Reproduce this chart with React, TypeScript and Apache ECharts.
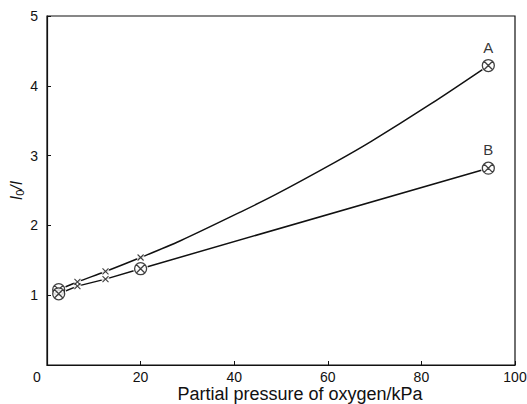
import React, { useEffect, useRef } from "react";
import * as echarts from "echarts";

// Measured points (partial pressure kPa, I0/I)
const aX = [2.5, 6.5, 12.5, 20, 94.3];
const aY = [1.08, 1.19, 1.34, 1.54, 4.29];
const aMarker = ["circle", "cross", "cross", "cross", "circle"];
const bX = [2.5, 6.5, 12.5, 20, 94.3];
const bY = [1.02, 1.13, 1.23, 1.38, 2.82];
const bMarker = ["circle", "cross", "cross", "circle", "circle"];
// Points read along the drawn (fitted) curve A between its markers
const aCurveX = [28.5, 41.3, 48.8, 61.7, 69.2, 82.0];
const aCurveY = [1.78, 2.19, 2.44, 2.91, 3.2, 3.74];
const curveNames = ["A", "B"];
const xTicks = [0, 20, 40, 60, 80, 100];
const yTicks = [0, 1, 2, 3, 4, 5];

const CIRCLE_X =
  "path://M10,0A10,10,0,1,1,-10,0A10,10,0,1,1,10,0ZM-7.07,-7.07L7.07,7.07M-7.07,7.07L7.07,-7.07";
const CROSS = "path://M0,0L10,10M0,10L10,0";
const FONT = "'Liberation Sans', Arial, Helvetica, sans-serif";

export default function App() {
  const ref = useRef<HTMLDivElement>(null);
  useEffect(() => {
    if (!ref.current) return;
    const chart = echarts.init(ref.current, undefined, { renderer: "svg" });

    const lineA = aX
      .map((x, i) => [x, aY[i]])
      .concat(aCurveX.map((x, i) => [x, aCurveY[i]]))
      .sort((p, q) => p[0] - q[0]);
    const lineB = bX.map((x, i) => [x, bY[i]]);

    const pts = (xs: number[], ys: number[], mk: string[], kind: string) =>
      xs.map((x, i) => ({ x, y: ys[i], k: mk[i] })).filter((p) => p.k === kind).map((p) => [p.x, p.y]);

    const circles = pts(aX, aY, aMarker, "circle").concat(pts(bX, bY, bMarker, "circle"));
    const crosses = pts(aX, aY, aMarker, "cross").concat(pts(bX, bY, bMarker, "cross"));
    const ends = [
      { value: [aX[aX.length - 1], aY[aY.length - 1]], name: curveNames[0] },
      { value: [bX[bX.length - 1], bY[bY.length - 1]], name: curveNames[1] },
    ];

    chart.setOption({
      animation: false,
      backgroundColor: "#fff",
      grid: {
        left: 47,
        right: 12,
        top: 16,
        bottom: 39,
        outerBoundsMode: "none",
        containLabel: false,
        show: true,
        borderColor: "#111",
        borderWidth: 1.2,
        backgroundColor: "transparent",
      },
      xAxis: {
        type: "value",
        min: xTicks[0],
        max: xTicks[xTicks.length - 1],
        interval: 20,
        name: "Partial pressure of oxygen/kPa",
        nameLocation: "middle",
        nameGap: 20,
        nameMoveOverlap: false,
        nameTextStyle: { fontFamily: FONT, fontSize: 18, color: "#111", padding: [0, 0, 0, 38] },
        axisLine: { show: true, lineStyle: { color: "#111", width: 1.2 } },
        axisTick: { show: true, inside: true, length: 4, lineStyle: { color: "#111" } },
        axisLabel: {
          fontFamily: FONT,
          fontSize: 14,
          color: "#111",
          margin: 5,
          formatter: (v: number) => (v === 0 ? "{z|0}" : String(v)),
          rich: { z: { fontFamily: FONT, fontSize: 14, color: "#111", padding: [0, 20, 0, 0] } },
        },
        splitLine: { show: false },
      },
      yAxis: {
        type: "value",
        min: yTicks[0],
        max: yTicks[yTicks.length - 1],
        interval: 1,
        name: "{i|I}{s|0}{i|/I}",
        nameLocation: "middle",
        nameGap: 22,
        nameMoveOverlap: false,
        nameRotate: 90,
        nameTextStyle: {
          rich: {
            i: { fontFamily: FONT, fontSize: 16, fontStyle: "italic", color: "#111" },
            s: { fontFamily: FONT, fontSize: 11, color: "#111", verticalAlign: "bottom", padding: [6, 0, 0, 0] },
          },
        },
        axisLine: { show: true, lineStyle: { color: "#111", width: 1.2 } },
        axisTick: { show: true, inside: true, length: 4, lineStyle: { color: "#111" } },
        axisLabel: {
          fontFamily: FONT,
          fontSize: 14,
          color: "#111",
          margin: 9,
          showMinLabel: false,
        },
        splitLine: { show: false },
      },
      series: [
        {
          type: "scatter",
          data: ends,
          symbol: "circle",
          symbolSize: 12,
          itemStyle: { color: "#fff", borderWidth: 0 },
          label: {
            show: true,
            position: "top",
            distance: 5,
            formatter: (p: any) => p.name,
            fontFamily: FONT,
            fontSize: 15,
            color: "#000",
          },
          z: 1,
        },
        {
          type: "line",
          data: lineA,
          smooth: 0.3,
          showSymbol: false,
          symbol: "none",
          lineStyle: { color: "#111", width: 1.5 },
          z: 2,
        },
        {
          type: "line",
          data: lineB,
          showSymbol: false,
          symbol: "none",
          lineStyle: { color: "#111", width: 1.5 },
          z: 2,
        },
        {
          type: "scatter",
          data: crosses,
          symbol: "circle",
          symbolSize: 8,
          itemStyle: { color: "#fff", borderWidth: 0 },
          z: 3,
        },
        {
          type: "scatter",
          data: circles,
          symbol: "circle",
          symbolSize: 15,
          itemStyle: { color: "#fff", borderWidth: 0 },
          z: 3,
        },
        {
          type: "scatter",
          data: crosses,
          symbol: CROSS,
          symbolSize: 6,
          itemStyle: { color: "transparent", borderColor: "#111", borderWidth: 1.1 },
          z: 4,
        },
        {
          type: "scatter",
          data: circles,
          symbol: CIRCLE_X,
          symbolSize: 12,
          itemStyle: { color: "#fff", borderColor: "#111", borderWidth: 1.3 },
          z: 5,
        },
      ],
    });
    return () => chart.dispose();
  }, []);
  return <div ref={ref} style={{ width: 527, height: 404, position: "absolute", left: 0, top: 0 }} />;
}
